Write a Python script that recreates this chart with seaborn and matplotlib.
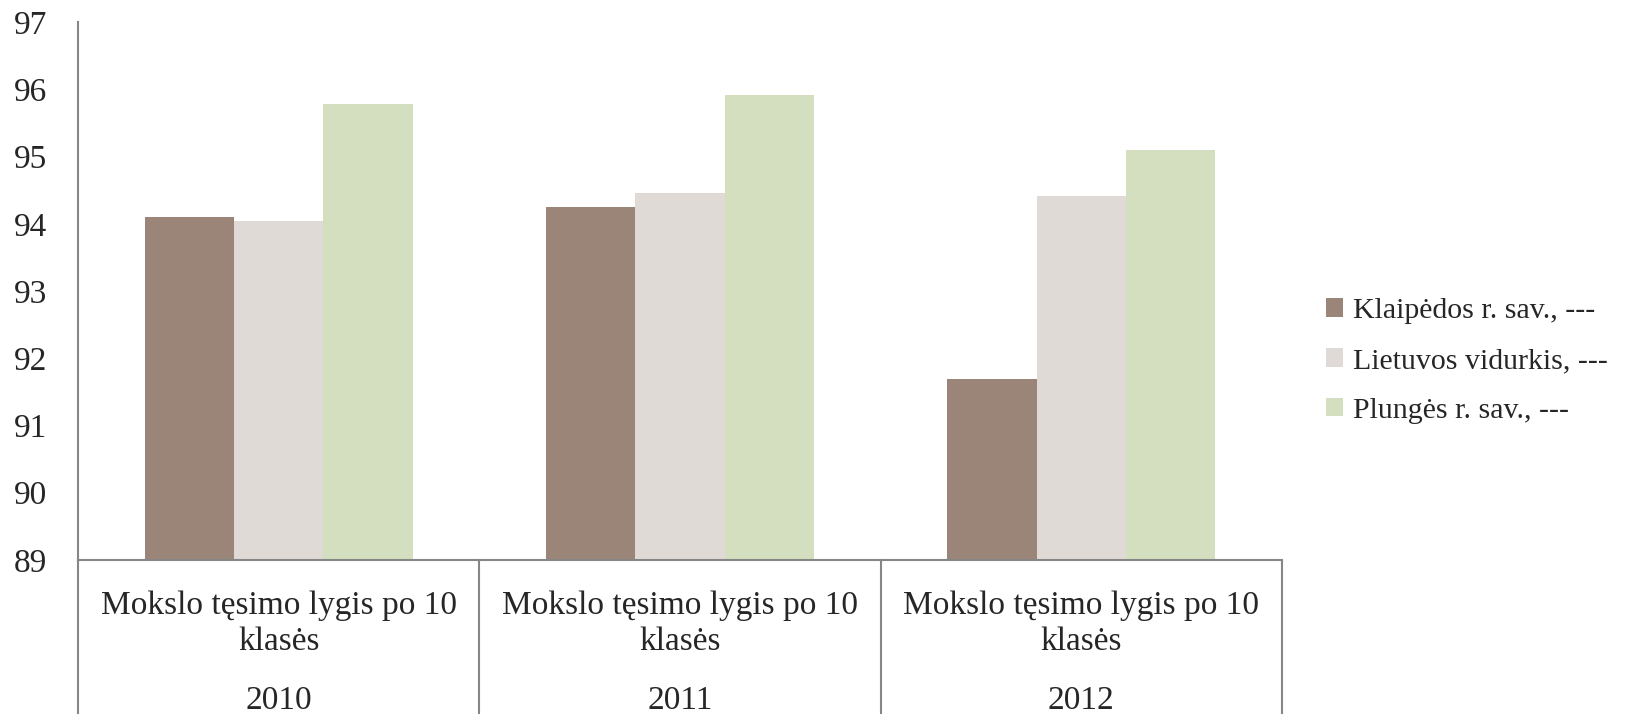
import numpy as np
import pandas as pd
import matplotlib
matplotlib.use("Agg")
import matplotlib.pyplot as plt
import matplotlib.transforms as mtransforms
import seaborn as sns

# data
years = ["2010", "2011", "2012"]
series = ["Klaipėdos r. sav., ---", "Lietuvos vidurkis, ---", "Plungės r. sav., ---"]
klaipedos = [94.10, 94.25, 91.69]
lietuvos = [94.04, 94.46, 94.42]
plunges = [95.78, 95.92, 95.10]
cat_label = "Mokslo tęsimo lygis po 10\nklasės"
yticks = [89, 90, 91, 92, 93, 94, 95, 96, 97]

colors = ["#9B8579", "#DFDAD6", "#D4DFBF"]
line_col = "#868686"
tick_fs = 24
legend_fs = 21.5

rows = []
for name, vals in zip(series, [klaipedos, lietuvos, plunges]):
    for y, v in zip(years, vals):
        rows.append({"year": y, "series": name, "value": v})
df = pd.DataFrame(rows)

sns.set_style("white")
plt.rcParams["font.family"] = ["Liberation Serif", "DejaVu Serif"]

fig = plt.figure(figsize=(16.44, 7.14), dpi=100)
ax = fig.add_axes([78 / 1644, 1 - 560 / 714, (1282 - 78) / 1644, (560 - 22) / 714])

sns.barplot(data=df, x="year", y="value", hue="series", order=years, hue_order=series,
            palette=colors, saturation=1, width=0.667, linewidth=0, ax=ax)

ax.set_xlim(-0.5, 2.5)
ax.set_ylim(89, 97)
ax.set_yticks(yticks)
ax.set_yticklabels([str(t) for t in yticks], fontsize=tick_fs)
ax.tick_params(axis="y", length=0, pad=22)
ax.set_xticks([])
ax.set_xlabel("")
ax.set_ylabel("")

for s in ["top", "right"]:
    ax.spines[s].set_visible(False)
for s in ["left", "bottom"]:
    ax.spines[s].set_color(line_col)
    ax.spines[s].set_linewidth(1.5)

# table-like category axis below the plot
trans = mtransforms.blended_transform_factory(ax.transData, ax.transAxes)
for x in [-0.5, 0.5, 1.5, 2.5]:
    ax.plot([x, x], [0, -0.3], transform=trans, color=line_col, lw=1.5, clip_on=False)
for i, y in enumerate(years):
    ax.text(i, -0.118, cat_label, transform=trans, ha="center", va="center",
            fontsize=tick_fs, linespacing=1.24)
    ax.text(i, -0.262, y, transform=trans, ha="center", va="center", fontsize=tick_fs)

handles, labels = ax.get_legend_handles_labels()
ax.legend(handles, labels, loc="center left", bbox_to_anchor=(1326 / 1644, 1 - 361 / 714),
          bbox_transform=fig.transFigure, frameon=False, fontsize=legend_fs,
          handlelength=0.56, handleheight=0.56, handletextpad=0.35, labelspacing=0.8,
          borderpad=0, borderaxespad=0)

plt.savefig("out.png", dpi=100)
